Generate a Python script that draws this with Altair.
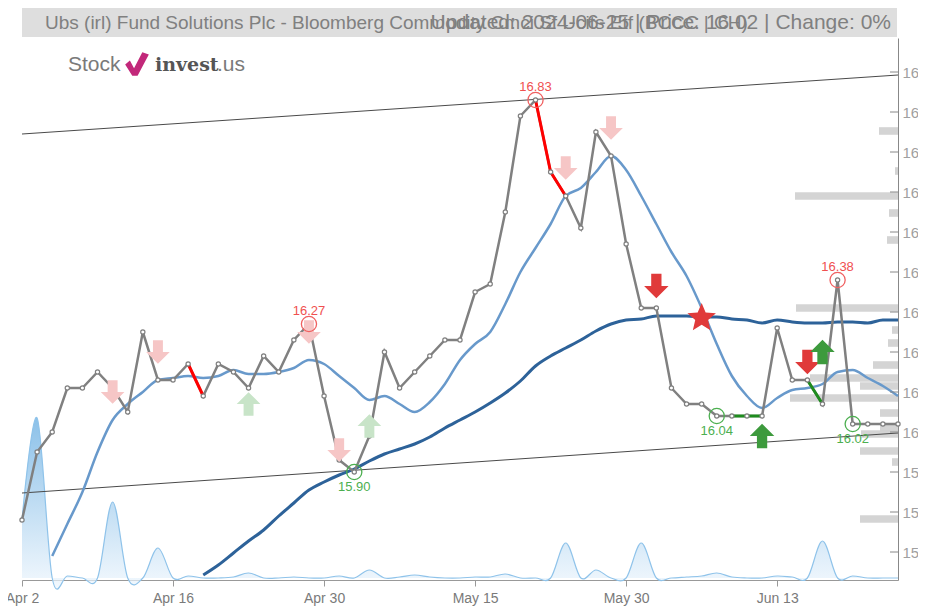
import json
import altair as alt
import pandas as pd

# ---------------- data ----------------
x_labels = ["Apr 2", "Apr 16", "Apr 30", "May 15", "May 30", "Jun 13"]
x_label_idx = [0, 10, 20, 30, 40, 50]
y_ticks = [15.7, 15.8, 15.9, 16.0, 16.1, 16.2, 16.3, 16.4, 16.5, 16.6, 16.7, 16.8, 16.9]

price = [15.78, 15.95, 16.00, 16.11, 16.11, 16.15, 16.11, 16.05, 16.25, 16.13,
         16.13, 16.17, 16.09, 16.17, 16.15, 16.11, 16.19, 16.15, 16.23, 16.27,
         16.09, 15.93, 15.90, 15.99, 16.20, 16.11, 16.15, 16.19, 16.23, 16.23,
         16.35, 16.37, 16.55, 16.79, 16.83, 16.65, 16.59, 16.51, 16.75, 16.69,
         16.47, 16.31, 16.31, 16.11, 16.07, 16.07, 16.04, 16.04, 16.04, 16.04,
         16.26, 16.13, 16.13, 16.07, 16.38, 16.02, 16.02, 16.02, 16.02]

ma_short = [None, None, 15.69, 15.77, 15.85, 15.95, 16.03, 16.07, 16.10, 16.13,
            16.135, 16.14, 16.135, 16.14, 16.155, 16.145, 16.145, 16.15, 16.16, 16.18,
            16.17, 16.14, 16.11, 16.08, 16.09, 16.07, 16.05, 16.075, 16.12, 16.18,
            16.22, 16.25, 16.32, 16.40, 16.46, 16.52, 16.59, 16.61, 16.65, 16.69,
            16.655, 16.59, 16.52, 16.45, 16.39, 16.31, 16.22, 16.14, 16.09, 16.06,
            16.085, 16.105, 16.11, 16.12, 16.15, 16.155, 16.135, 16.115, 16.09]

ma_long = [None] * 12 + [
    15.6425, 15.6675, 15.6975, 15.7275, 15.755, 15.79, 15.8225, 15.855,
    15.875, 15.8925, 15.9075, 15.9275, 15.945, 15.9575, 15.97, 15.9875, 16.01, 16.03,
    16.05, 16.0725, 16.0975, 16.1275, 16.165, 16.19, 16.21, 16.23, 16.2525, 16.27,
    16.28, 16.2825, 16.29, 16.29, 16.29, 16.2875, 16.2875, 16.2825, 16.28, 16.2725,
    16.28, 16.275, 16.2725, 16.2725, 16.275, 16.275, 16.2725, 16.28, 16.28]

volume = [58, 160, 0, 2, 0, 0, 76, 0, 0, 30,
          0, 2, 0, 0, 1, 5, 0, 0, 1, 0,
          0, 2, 0, 8, 0, 1, 3, 1, 0, 0,
          1, 1, 4, 0, 0, 0, 35, 0, 8, 0,
          0, 35, 0, 0, 1, 2, 5, 1, 0, 0,
          2, 1, 0, 37, 0, 2, 0, 0, 0]

prof_price = [16.7525, 16.6525, 16.59, 16.5475, 16.48, 16.31, 16.255, 16.2225, 16.1675,
              16.135, 16.115, 16.085, 16.0475, 16.01, 15.995, 15.9525, 15.925, 15.7825]
prof_len = [19, 3, 103, 9, 11, 102, 6, 10, 25, 88, 38, 108, 18, 18, 37, 38, 6, 38]

trend_idx = [0, 58]
trend_upper = [16.745, 16.8925]
trend_lower = [15.8475, 15.9975]

seg_id = ["a", "a", "b", "b", "b", "c", "c", "c", "d", "d"]
seg_idx = [11, 12, 34, 35, 36, 47, 48, 49, 52, 53]
seg_kind = ["red", "red", "red", "red", "red", "green", "green", "green", "green", "green"]

high_idx = [19, 34, 54]
low_idx = [22, 46, 55]

arrow_kind = ["down_faint"] * 6 + ["up_faint"] * 2 + ["down"] * 2 + ["up"] * 2 + ["star"]
arrow_idx = [6, 9, 19, 21, 36, 39, 15, 23, 42, 52, 49, 53, 45]
arrow_val = [16.10, 16.20, 16.25, 15.955, 16.66, 16.76, 16.07, 16.015, 16.365, 16.175,
             15.99, 16.20, 16.285]

title_left = "Ubs (irl) Fund Solutions Plc - Bloomberg Commodity Cmci Sf Ucits Etf (BCCC | CH)"
title_right = "Updated: 2024-06-25 | Price: 16.02 | Change: 0%"

# ---------------- tables ----------------
n = len(price)
df = pd.DataFrame({"i": list(range(n)), "price": price, "ma_s": ma_short,
                   "ma_l": ma_long, "vol": volume})
seg_df = pd.DataFrame({"seg": seg_id, "i": seg_idx, "kind": seg_kind,
                       "price": [price[k] for k in seg_idx]})
hi_df = pd.DataFrame({"i": high_idx, "price": [price[k] for k in high_idx]})
lo_df = pd.DataFrame({"i": low_idx, "price": [price[k] for k in low_idx]})
prof_df = pd.DataFrame({"p": prof_price, "len": prof_len})
trend_df = pd.DataFrame({"i": trend_idx * 2, "v": trend_upper + trend_lower,
                         "line": ["up", "up", "lo", "lo"]})
arr_df = pd.DataFrame({"kind": arrow_kind, "i": arrow_idx, "v": arrow_val})
tick_df = pd.DataFrame({"t": y_ticks})
one = pd.DataFrame({"k": [0]})

W, H = 876, 542
xs = alt.Scale(domain=[0, 58], nice=False, zero=False)
ys = alt.Scale(domain=[15.63, 16.985], nice=False, zero=False)
FONT = "Liberation Sans"


def X(field="i"):
    return alt.X(f"{field}:Q", scale=xs, axis=None)


def Y(field):
    return alt.Y(f"{field}:Q", scale=ys, axis=None)


DOWN = "M-0.42,-1L0.42,-1L0.42,0L1,0L0,1L-1,0L-0.42,0Z"
UP = "M-0.42,1L0.42,1L0.42,0L1,0L0,-1L-1,0L-0.42,0Z"
STAR = ("M0,-1L0.2645,-0.364L0.951,-0.309L0.428,0.139L0.588,0.809L0,0.45"
        "L-0.588,0.809L-0.428,0.139L-0.951,-0.309L-0.2645,-0.364Z")
LOGO = "M-1,0.05L-0.6,-0.3L-0.25,0.35L0.45,-1L1,-0.8L0.05,1L-0.4,1Z"

# ---------------- layers ----------------
title_bar = alt.Chart(one).mark_rect(color="#dedede").encode(
    x=alt.value(0), x2=alt.value(875), y=alt.value(-30), y2=alt.value(-1))
title_l = alt.Chart(one).mark_text(text=title_left, align="left", baseline="middle",
                                   fontSize=19, font=FONT, color="#808080").encode(
    x=alt.value(23), y=alt.value(-15))
title_r = alt.Chart(one).mark_text(text=title_right, align="right", baseline="middle",
                                   fontSize=21, font=FONT, color="#808080").encode(
    x=alt.value(869), y=alt.value(-15))

logo1 = alt.Chart(one).mark_text(text="Stock", align="left", baseline="middle",
                                 fontSize=21, font=FONT, color="#7a7a7a").encode(
    x=alt.value(46), y=alt.value(27))
logo2 = alt.Chart(one).mark_point(shape=LOGO, filled=True, size=560, opacity=1,
                                  color="#c2287a", strokeWidth=0).encode(
    x=alt.value(115), y=alt.value(26))
logo3 = alt.Chart(one).mark_text(text="invest", align="left", baseline="middle",
                                 fontSize=19, font="DejaVu Serif", fontWeight="bold",
                                 color="#555555").encode(
    x=alt.value(133), y=alt.value(27))
logo4 = alt.Chart(one).mark_text(text=".us", align="left", baseline="middle",
                                 fontSize=21, font=FONT, color="#7a7a7a").encode(
    x=alt.value(195), y=alt.value(27))

vol = alt.Chart(df).mark_area(
    interpolate="cardinal",
    color=alt.Gradient(gradient="linear", x1=0, y1=0, x2=0, y2=1,
                       stops=[alt.GradientStop(color="#5aa6df", offset=0),
                              alt.GradientStop(color="#eef6fd", offset=1)]),
    line=alt.OverlayMarkDef(color="#8fc3ea", strokeWidth=1.2),
).encode(x=X(), y=alt.Y("vol:Q", scale=alt.Scale(domain=[-2, 540], nice=False, zero=False),
                         axis=None))

prof = alt.Chart(prof_df).transform_calculate(
    lo="datum.p - 0.0095", hi="datum.p + 0.0095"
).mark_rect(color="#cfcfcf", opacity=0.9).encode(
    x=alt.X("len:Q", scale=alt.Scale(domain=[0, W], reverse=True, nice=False, zero=False),
            axis=None),
    x2=alt.datum(0),
    y=Y("lo"), y2=alt.Y2("hi:Q"))

trend = alt.Chart(trend_df).mark_line(color="#4a4a4a", strokeWidth=1).encode(
    x=X(), y=Y("v"), detail="line:N")

ma_s_line = alt.Chart(df).mark_line(color="#6899cb", strokeWidth=2.5,
                                    interpolate="monotone").encode(x=X(), y=Y("ma_s"))
ma_l_line = alt.Chart(df).mark_line(color="#2d6299", strokeWidth=3,
                                    interpolate="monotone").encode(x=X(), y=Y("ma_l"))

yticks_rule = alt.Chart(tick_df).mark_rule(color="#888888", strokeWidth=1).encode(
    y=Y("t"), x=alt.value(W - 8), x2=alt.value(W))

label_expr = f"{json.dumps(x_labels)}[round(datum.value / 10)]"
price_line = alt.Chart(df).mark_line(color="#808080", strokeWidth=2.5).encode(
    x=alt.X("i:Q", scale=xs,
            axis=alt.Axis(values=x_label_idx, labelExpr=label_expr, title=None, grid=False,
                          tickSize=6, tickColor="#999999", domainColor="#999999",
                          labelColor="#7a7a7a", labelFontSize=14, labelFont=FONT,
                          labelPadding=5, labelFlush=False)),
    y=alt.Y("price:Q", scale=ys,
            axis=alt.Axis(orient="right", values=y_ticks, format=".1f", title=None,
                          grid=False, ticks=False, labelPadding=4, domainColor="#888888",
                          labelColor="#a0a0a0", labelFontSize=15, labelFont=FONT)))

seg_lines = alt.Chart(seg_df).mark_line(strokeWidth=3).encode(
    x=X(), y=Y("price"), detail="seg:N",
    color=alt.Color("kind:N", scale=alt.Scale(domain=["red", "green"],
                                              range=["#ff0000", "#1e8c1e"]), legend=None))

pts = alt.Chart(df).mark_point(shape="circle", filled=True, size=18, fill="white",
                               stroke="#808080", strokeWidth=1.2, opacity=1).encode(
    x=X(), y=Y("price"))


def arrows(kind, shape, color, size):
    return alt.Chart(arr_df).transform_filter(alt.datum.kind == kind).mark_point(
        shape=shape, filled=True, size=size, color=color, opacity=1, strokeWidth=0
    ).encode(x=X(), y=Y("v"))


a1 = arrows("down_faint", DOWN, "#f6c6c6", 560)
a2 = arrows("up_faint", UP, "#c8e4c8", 560)
a3 = arrows("down", DOWN, "#e03a3a", 600)
a4 = arrows("up", UP, "#3d9a3d", 600)
a5 = arrows("star", STAR, "#e03a3a", 900)

hi_c = alt.Chart(hi_df).mark_point(shape="circle", filled=False, size=230, color="#f06060",
                                   strokeWidth=1.3, opacity=1).encode(x=X(), y=Y("price"))
lo_c = alt.Chart(lo_df).mark_point(shape="circle", filled=False, size=230, color="#4caf50",
                                   strokeWidth=1.3, opacity=1).encode(x=X(), y=Y("price"))
hi_t = alt.Chart(hi_df).mark_text(dy=-13, fontSize=13, font=FONT, color="#f05050").encode(
    x=X(), y=Y("price"), text=alt.Text("price:Q", format=".2f"))
lo_t = alt.Chart(lo_df).mark_text(dy=15, fontSize=13, font=FONT, color="#4caf50").encode(
    x=X(), y=Y("price"), text=alt.Text("price:Q", format=".2f"))

chart = alt.layer(
    title_bar, title_l, title_r, logo1, logo2, logo3, logo4,
    vol, prof, trend, ma_s_line, ma_l_line, yticks_rule, price_line, seg_lines, pts,
    a1, a2, a3, a4, a5, hi_c, lo_c, hi_t, lo_t,
).resolve_scale(x="independent", y="independent", color="independent").properties(
    width=W, height=H,
    padding={"left": 14, "top": 30, "right": 20, "bottom": 28},
    autosize=alt.AutoSizeParams(type="none"),
).configure_view(stroke=None)

chart.save("out.html", embed_options={"renderer": "svg", "actions": False})
